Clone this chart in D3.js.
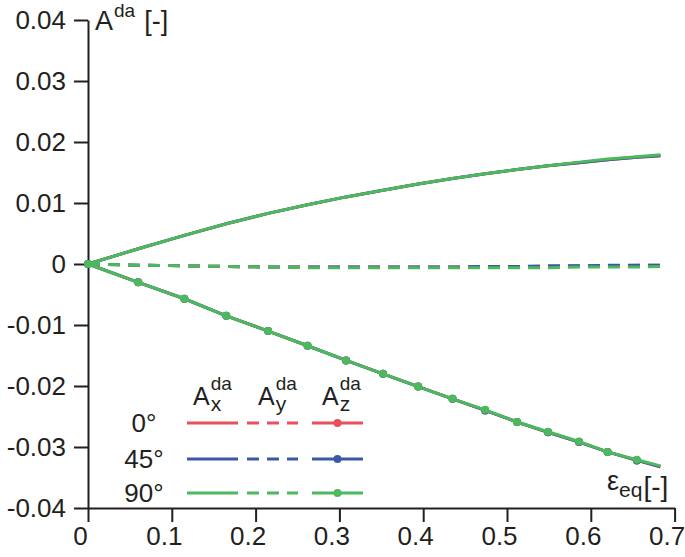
<!DOCTYPE html>
<html>
<head>
<meta charset="utf-8">
<script src="https://cdn.jsdelivr.net/npm/d3@7"></script>
<style>
  body { margin: 0; background: #fff; }
  svg { display: block; font-family: "Liberation Sans", Arial, sans-serif; }
  .axis text { font-size: 26px; fill: #231f20; }
  .axis path, .axis line { stroke: #231f20; stroke-width: 2; }
</style>
</head>
<body>
<div id="chart"></div>
<script>
// strain values (shared by all curves)
var strain = [0, 0.060, 0.115, 0.165, 0.215, 0.262, 0.308, 0.352, 0.394, 0.435, 0.474, 0.512, 0.549, 0.586, 0.620, 0.655, 0.683];

// A_x^da (solid)
var ax0  = [0, 0.0025, 0.0047, 0.0066, 0.0083, 0.0097, 0.0110, 0.0121, 0.0131, 0.0140, 0.0148, 0.0155, 0.0161, 0.0166, 0.0171, 0.0175, 0.0177];
var ax45 = [0, 0.0025, 0.0047, 0.0066, 0.0083, 0.0097, 0.0110, 0.0121, 0.0131, 0.0140, 0.0148, 0.0155, 0.0161, 0.0166, 0.0171, 0.0175, 0.0178];
var ax90 = [0, 0.0025, 0.0047, 0.0066, 0.0083, 0.0097, 0.0110, 0.0121, 0.0131, 0.0140, 0.0148, 0.0155, 0.0161, 0.0167, 0.0172, 0.0176, 0.0179];

// A_y^da (dashed)
var ay0  = [0, -0.0002, -0.0003, -0.0004, -0.0005, -0.0005, -0.0005, -0.0005, -0.0005, -0.0005, -0.0004, -0.0004, -0.0004, -0.0003, -0.0003, -0.0002, -0.0002];
var ay45 = [0, -0.0002, -0.0003, -0.0004, -0.0005, -0.0005, -0.0005, -0.0005, -0.0005, -0.0005, -0.0004, -0.0004, -0.0003, -0.0003, -0.0002, -0.0002, -0.0002];
var ay90 = [0, -0.0002, -0.0003, -0.0004, -0.0005, -0.0006, -0.0006, -0.0006, -0.0006, -0.0006, -0.0006, -0.0006, -0.0006, -0.0005, -0.0005, -0.0005, -0.0004];

// A_z^da (solid with dots)
var az0  = [0, -0.0030, -0.0057, -0.0085, -0.0110, -0.0134, -0.0158, -0.0180, -0.0201, -0.0221, -0.0240, -0.0259, -0.0276, -0.0292, -0.0308, -0.0322, -0.0333];
var az45 = [0, -0.0030, -0.0057, -0.0085, -0.0110, -0.0134, -0.0158, -0.0180, -0.0201, -0.0221, -0.0240, -0.0259, -0.0276, -0.0292, -0.0308, -0.0322, -0.0332];
var az90 = [0, -0.0030, -0.0057, -0.0085, -0.0110, -0.0134, -0.0158, -0.0180, -0.0201, -0.0221, -0.0239, -0.0259, -0.0275, -0.0291, -0.0308, -0.0321, -0.0331];

var angles = ["0°", "45°", "90°"];
var colors = ["#e8505c", "#3a58a4", "#4cba5c"];

var xTicks = [0, 0.1, 0.2, 0.3, 0.4, 0.5, 0.6, 0.7];
var xTickLabels = ["0", "0.1", "0.2", "0.3", "0.4", "0.5", "0.6", "0.7"];
var yTicks = [-0.04, -0.03, -0.02, -0.01, 0, 0.01, 0.02, 0.03, 0.04];
var yTickLabels = ["-0.04", "-0.03", "-0.02", "-0.01", "0", "0.01", "0.02", "0.03", "0.04"];

var width = 685, height = 557;
var svg = d3.select("#chart").append("svg").attr("width", width).attr("height", height);

var x = d3.scaleLinear().domain([0, 0.7]).range([88, 674.6]);
var y = d3.scaleLinear().domain([-0.04, 0.04]).range([508, 20]);

// axes
var xAxis = svg.append("g")
    .attr("class", "axis")
    .attr("transform", "translate(0," + y(-0.04) + ")")
    .call(d3.axisBottom(x).tickValues(xTicks).tickSize(14).tickSizeOuter(0).tickPadding(5)
      .tickFormat(function(d, i) { return xTickLabels[i]; }));
// labels in the original sit a bit left of their ticks
xAxis.selectAll(".tick text").attr("dx", -8);

svg.append("g")
    .attr("class", "axis")
    .attr("transform", "translate(" + x(0) + ",0)")
    .call(d3.axisLeft(y).tickValues(yTicks).tickSize(14).tickSizeOuter(0).tickPadding(8)
      .tickFormat(function(d, i) { return yTickLabels[i]; }));

var series = [
  {ax: ax0, ay: ay0, az: az0},
  {ax: ax45, ay: ay45, az: az45},
  {ax: ax90, ay: ay90, az: az90}
];

var line = d3.line()
    .x(function(d) { return x(d[0]); })
    .y(function(d) { return y(d[1]); });

function pts(vals) { return strain.map(function(s, i) { return [s, vals[i]]; }); }

var plot = svg.append("g");
series.forEach(function(s, k) {
  var g = plot.append("g");
  g.append("path").attr("d", line(pts(s.ay)))
    .attr("fill", "none").attr("stroke", colors[k]).attr("stroke-width", 3).attr("stroke-dasharray", "12,8");
  g.append("path").attr("d", line(pts(s.ax)))
    .attr("fill", "none").attr("stroke", colors[k]).attr("stroke-width", 3);
  g.append("path").attr("d", line(pts(s.az)))
    .attr("fill", "none").attr("stroke", colors[k]).attr("stroke-width", 3);
  g.selectAll("circle").data(pts(s.az).slice(0, -1)).enter().append("circle")
    .attr("cx", function(d) { return x(d[0]); })
    .attr("cy", function(d) { return y(d[1]); })
    .attr("r", 4)
    .attr("fill", colors[k]);
});

// axis titles
var yt = svg.append("text").attr("x", 95).attr("y", 30).attr("fill", "#231f20").style("font-size", "27px");
yt.append("tspan").text("A");
yt.append("tspan").attr("dy", -13).attr("dx", 1).style("font-size", "19px").text("da");
yt.append("tspan").attr("dy", 13).attr("dx", 9).text("[-]");

var xt = svg.append("text").attr("x", 607).attr("y", 490).attr("fill", "#231f20").style("font-size", "27px");
xt.append("tspan").text("ε");
xt.append("tspan").attr("dy", 7).style("font-size", "21px").text("eq");
xt.append("tspan").attr("dy", -1).attr("dx", 1).style("font-size", "28px").text("[-]");

// legend
var colX = [187, 247, 312];
var headX = [193, 258, 322];
var colW = 51;
var rowY = [423, 459, 493];
var heads = ["x", "y", "z"];

heads.forEach(function(h, j) {
  var t = svg.append("text").attr("x", headX[j]).attr("y", 405).attr("fill", "#231f20").style("font-size", "25px");
  t.append("tspan").text("A");
  var aw = t.node().getComputedTextLength();
  svg.append("text").attr("x", headX[j] + 1 + aw).attr("y", 390).attr("fill", "#231f20")
    .style("font-size", "19px").text("da");
  svg.append("text").attr("x", headX[j] + 1 + aw).attr("y", 411).attr("fill", "#231f20")
    .style("font-size", "21px").text(h);
});

angles.forEach(function(a, k) {
  svg.append("text").attr("x", 144).attr("y", rowY[k]).attr("dy", "0.36em")
    .attr("text-anchor", "middle").attr("fill", "#231f20").style("font-size", "26px").text(a);
  var dash = [null, "12,8", null];
  colX.forEach(function(cx, j) {
    svg.append("line").attr("x1", cx).attr("x2", cx + colW).attr("y1", rowY[k]).attr("y2", rowY[k])
      .attr("stroke", colors[k]).attr("stroke-width", 3).attr("stroke-dasharray", dash[j]);
  });
  svg.append("circle").attr("cx", colX[2] + colW / 2).attr("cy", rowY[k]).attr("r", 4).attr("fill", colors[k]);
});
</script>
</body>
</html>
